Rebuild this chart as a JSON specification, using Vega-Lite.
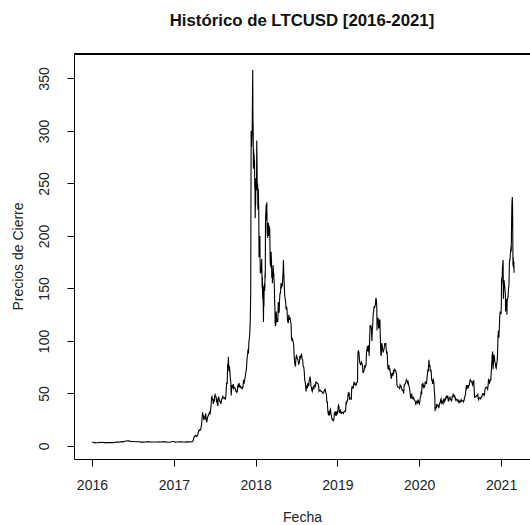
{
  "$schema": "https://vega.github.io/schema/vega-lite/v6.json",
  "width": 456,
  "height": 405,
  "autosize": {"type": "none"},
  "padding": {"left": 74, "top": 54, "right": 0, "bottom": 66},
  "background": "white",
  "config": {
    "view": {"stroke": null},
    "font": "Liberation Sans",
    "axis": {"grid": false, "domainColor": "black", "tickColor": "black", "tickSize": 7, "labelColor": "#222", "titleColor": "#222", "labelFont": "Liberation Sans", "titleFont": "Liberation Sans", "labelFontSize": 14, "titleFontSize": 14, "titleFontWeight": "normal", "domainWidth": 1, "tickWidth": 1}
  },
  "title": {"text": "Histórico de LTCUSD [2016-2021]", "font": "Liberation Sans", "fontSize": 16.8, "fontWeight": "bold", "color": "#111", "anchor": "middle", "offset": 11, "baseline": "alphabetic"},
  "data": {"values": [
{"d":"2016-01-01","v":3.5},{"d":"2016-01-08","v":3.6},{"d":"2016-01-15","v":3.0},{"d":"2016-01-22","v":3.1},{"d":"2016-01-29","v":3.1},{"d":"2016-02-05","v":3.4},{"d":"2016-02-12","v":3.3},{"d":"2016-02-19","v":3.5},{"d":"2016-02-26","v":3.0},{"d":"2016-03-04","v":3.3},{"d":"2016-03-11","v":3.2},{"d":"2016-03-18","v":3.3},{"d":"2016-03-25","v":3.2},{"d":"2016-04-01","v":3.2},{"d":"2016-04-08","v":3.2},{"d":"2016-04-15","v":3.6},{"d":"2016-04-22","v":3.8},{"d":"2016-04-29","v":3.7},{"d":"2016-05-06","v":3.8},{"d":"2016-05-13","v":4.1},{"d":"2016-05-20","v":3.9},{"d":"2016-05-27","v":4.5},{"d":"2016-06-03","v":4.8},{"d":"2016-06-10","v":5.0},{"d":"2016-06-17","v":4.6},{"d":"2016-06-24","v":4.2},{"d":"2016-07-01","v":4.2},{"d":"2016-07-08","v":4.2},{"d":"2016-07-15","v":4.1},{"d":"2016-07-22","v":4.0},{"d":"2016-07-29","v":4.0},{"d":"2016-08-05","v":3.7},{"d":"2016-08-12","v":3.8},{"d":"2016-08-19","v":3.7},{"d":"2016-08-26","v":3.8},{"d":"2016-09-02","v":3.9},{"d":"2016-09-09","v":3.9},{"d":"2016-09-16","v":3.9},{"d":"2016-09-23","v":3.8},{"d":"2016-09-30","v":3.8},{"d":"2016-10-07","v":3.8},{"d":"2016-10-14","v":3.8},{"d":"2016-10-21","v":3.8},{"d":"2016-10-28","v":3.9},{"d":"2016-11-04","v":3.8},{"d":"2016-11-11","v":3.9},{"d":"2016-11-18","v":3.9},{"d":"2016-11-25","v":4.0},{"d":"2016-12-02","v":3.7},{"d":"2016-12-09","v":3.6},{"d":"2016-12-16","v":3.6},{"d":"2016-12-23","v":4.2},{"d":"2016-12-30","v":4.3},
{"d":"2017-01-06","v":3.7},{"d":"2017-01-13","v":3.8},{"d":"2017-01-20","v":3.8},{"d":"2017-01-27","v":4.0},{"d":"2017-02-03","v":3.9},{"d":"2017-02-10","v":3.8},{"d":"2017-02-17","v":3.8},{"d":"2017-02-24","v":3.7},{"d":"2017-03-03","v":4.1},{"d":"2017-03-10","v":3.8},{"d":"2017-03-17","v":3.9},{"d":"2017-03-24","v":4.0},{"d":"2017-03-28","v":5.0},{"d":"2017-03-30","v":7.0},{"d":"2017-04-01","v":8.5},{"d":"2017-04-03","v":9.0},{"d":"2017-04-05","v":9.2},{"d":"2017-04-07","v":10.2},{"d":"2017-04-09","v":10.0},{"d":"2017-04-11","v":9.6},{"d":"2017-04-13","v":9.0},{"d":"2017-04-15","v":9.8},{"d":"2017-04-17","v":10.0},{"d":"2017-04-19","v":12.5},{"d":"2017-04-21","v":13.5},{"d":"2017-04-23","v":15.0},{"d":"2017-04-25","v":15.2},{"d":"2017-04-27","v":14.8},{"d":"2017-04-29","v":15.4},{"d":"2017-05-01","v":16.0},{"d":"2017-05-03","v":18.5},{"d":"2017-05-05","v":21.0},{"d":"2017-05-07","v":27.0},{"d":"2017-05-09","v":32.0},{"d":"2017-05-11","v":30.0},{"d":"2017-05-13","v":28.0},{"d":"2017-05-15","v":24.5},{"d":"2017-05-17","v":27.0},{"d":"2017-05-19","v":28.0},{"d":"2017-05-21","v":27.0},{"d":"2017-05-23","v":31.0},{"d":"2017-05-25","v":26.0},{"d":"2017-05-27","v":22.5},{"d":"2017-05-29","v":24.0},{"d":"2017-05-31","v":27.0},{"d":"2017-06-02","v":28.0},{"d":"2017-06-04","v":29.5},{"d":"2017-06-06","v":30.5},{"d":"2017-06-08","v":31.0},{"d":"2017-06-10","v":33.0},{"d":"2017-06-12","v":30.0},{"d":"2017-06-14","v":35.0},{"d":"2017-06-16","v":38.0},{"d":"2017-06-18","v":46.0},{"d":"2017-06-20","v":47.0},{"d":"2017-06-22","v":44.0},{"d":"2017-06-24","v":44.0},{"d":"2017-06-26","v":40.0},{"d":"2017-06-28","v":43.0},{"d":"2017-06-30","v":42.0},{"d":"2017-07-02","v":48.0},{"d":"2017-07-04","v":49.0},{"d":"2017-07-06","v":47.0},{"d":"2017-07-08","v":47.0},{"d":"2017-07-10","v":43.0},{"d":"2017-07-12","v":44.0},{"d":"2017-07-14","v":40.0},{"d":"2017-07-16","v":38.0},{"d":"2017-07-18","v":45.0},{"d":"2017-07-20","v":47.0},{"d":"2017-07-22","v":45.0},{"d":"2017-07-24","v":43.0},{"d":"2017-07-26","v":42.0},{"d":"2017-07-28","v":42.0},{"d":"2017-07-30","v":40.0},{"d":"2017-08-01","v":43.0},{"d":"2017-08-03","v":45.0},{"d":"2017-08-05","v":45.0},{"d":"2017-08-07","v":48.0},{"d":"2017-08-09","v":46.0},{"d":"2017-08-11","v":46.0},{"d":"2017-08-13","v":45.0},{"d":"2017-08-15","v":45.0},{"d":"2017-08-17","v":46.0},{"d":"2017-08-19","v":45.0},{"d":"2017-08-21","v":47.0},{"d":"2017-08-23","v":55.0},{"d":"2017-08-25","v":61.0},{"d":"2017-08-27","v":59.0},{"d":"2017-08-29","v":78.0},{"d":"2017-08-31","v":74.0},{"d":"2017-09-01","v":85.0},{"d":"2017-09-02","v":80.0},{"d":"2017-09-04","v":71.0},{"d":"2017-09-06","v":76.0},{"d":"2017-09-08","v":71.0},{"d":"2017-09-10","v":65.0},{"d":"2017-09-12","v":61.0},{"d":"2017-09-14","v":48.0},{"d":"2017-09-15","v":52.0},{"d":"2017-09-17","v":58.0},{"d":"2017-09-19","v":55.0},{"d":"2017-09-21","v":57.0},{"d":"2017-09-23","v":59.0},{"d":"2017-09-25","v":55.0},{"d":"2017-09-27","v":56.0},{"d":"2017-09-29","v":56.0},{"d":"2017-10-01","v":55.0},{"d":"2017-10-03","v":54.0},{"d":"2017-10-05","v":52.0},{"d":"2017-10-07","v":52.0},{"d":"2017-10-09","v":51.0},{"d":"2017-10-11","v":52.0},{"d":"2017-10-13","v":57.0},{"d":"2017-10-15","v":58.0},{"d":"2017-10-17","v":57.0},{"d":"2017-10-19","v":60.0},{"d":"2017-10-21","v":57.0},{"d":"2017-10-23","v":56.0},{"d":"2017-10-25","v":57.0},{"d":"2017-10-27","v":56.0},{"d":"2017-10-29","v":55.0},{"d":"2017-10-31","v":55.0},{"d":"2017-11-02","v":56.0},{"d":"2017-11-04","v":55.0},{"d":"2017-11-06","v":57.0},{"d":"2017-11-08","v":63.0},{"d":"2017-11-10","v":59.0},{"d":"2017-11-12","v":62.0},{"d":"2017-11-14","v":64.0},{"d":"2017-11-16","v":67.0},{"d":"2017-11-18","v":70.0},{"d":"2017-11-20","v":72.0},{"d":"2017-11-22","v":77.0},{"d":"2017-11-24","v":84.0},{"d":"2017-11-26","v":87.0},{"d":"2017-11-28","v":92.0},{"d":"2017-11-30","v":88.0},{"d":"2017-12-02","v":100},{"d":"2017-12-04","v":102},{"d":"2017-12-06","v":108},{"d":"2017-12-08","v":120},{"d":"2017-12-10","v":145},{"d":"2017-12-11","v":220},{"d":"2017-12-12","v":300},{"d":"2017-12-13","v":290},{"d":"2017-12-14","v":285},{"d":"2017-12-15","v":292},{"d":"2017-12-16","v":297},{"d":"2017-12-17","v":308},{"d":"2017-12-18","v":338},{"d":"2017-12-19","v":358},{"d":"2017-12-20","v":311},{"d":"2017-12-21","v":303},{"d":"2017-12-22","v":264},{"d":"2017-12-23","v":283},{"d":"2017-12-24","v":272},{"d":"2017-12-25","v":278},{"d":"2017-12-26","v":270},{"d":"2017-12-27","v":272},{"d":"2017-12-28","v":247},{"d":"2017-12-29","v":245},{"d":"2017-12-30","v":217},{"d":"2017-12-31","v":232},
{"d":"2018-01-01","v":229},{"d":"2018-01-02","v":255},{"d":"2018-01-03","v":245},{"d":"2018-01-04","v":243},{"d":"2018-01-05","v":250},{"d":"2018-01-06","v":291},{"d":"2018-01-07","v":275},{"d":"2018-01-08","v":248},{"d":"2018-01-09","v":245},{"d":"2018-01-10","v":250},{"d":"2018-01-11","v":225},{"d":"2018-01-12","v":240},{"d":"2018-01-13","v":245},{"d":"2018-01-14","v":232},{"d":"2018-01-15","v":226},{"d":"2018-01-16","v":180},{"d":"2018-01-17","v":185},{"d":"2018-01-18","v":183},{"d":"2018-01-19","v":190},{"d":"2018-01-20","v":200},{"d":"2018-01-21","v":175},{"d":"2018-01-22","v":165},{"d":"2018-01-23","v":165},{"d":"2018-01-24","v":170},{"d":"2018-01-25","v":170},{"d":"2018-01-26","v":165},{"d":"2018-01-27","v":172},{"d":"2018-01-28","v":178},{"d":"2018-01-29","v":167},{"d":"2018-01-30","v":150},{"d":"2018-01-31","v":161},{"d":"2018-02-01","v":145},{"d":"2018-02-02","v":140},{"d":"2018-02-03","v":152},{"d":"2018-02-04","v":132},{"d":"2018-02-05","v":118},{"d":"2018-02-06","v":140},{"d":"2018-02-07","v":133},{"d":"2018-02-08","v":150},{"d":"2018-02-09","v":155},{"d":"2018-02-10","v":150},{"d":"2018-02-11","v":148},{"d":"2018-02-12","v":165},{"d":"2018-02-13","v":160},{"d":"2018-02-14","v":213},{"d":"2018-02-15","v":220},{"d":"2018-02-16","v":225},{"d":"2018-02-17","v":230},{"d":"2018-02-18","v":215},{"d":"2018-02-19","v":225},{"d":"2018-02-20","v":232},{"d":"2018-02-21","v":210},{"d":"2018-02-22","v":200},{"d":"2018-02-23","v":205},{"d":"2018-02-24","v":198},{"d":"2018-02-25","v":208},{"d":"2018-02-26","v":212},{"d":"2018-02-27","v":212},{"d":"2018-02-28","v":200},{"d":"2018-03-01","v":205},{"d":"2018-03-02","v":210},{"d":"2018-03-03","v":208},{"d":"2018-03-04","v":205},{"d":"2018-03-05","v":207},{"d":"2018-03-06","v":190},{"d":"2018-03-07","v":175},{"d":"2018-03-08","v":172},{"d":"2018-03-09","v":180},{"d":"2018-03-10","v":170},{"d":"2018-03-11","v":185},{"d":"2018-03-12","v":180},{"d":"2018-03-13","v":175},{"d":"2018-03-14","v":160},{"d":"2018-03-15","v":162},{"d":"2018-03-16","v":165},{"d":"2018-03-17","v":155},{"d":"2018-03-18","v":160},{"d":"2018-03-19","v":168},{"d":"2018-03-20","v":172},{"d":"2018-03-21","v":167},{"d":"2018-03-22","v":162},{"d":"2018-03-23","v":165},{"d":"2018-03-24","v":158},{"d":"2018-03-25","v":156},{"d":"2018-03-26","v":148},{"d":"2018-03-27","v":135},{"d":"2018-03-28","v":133},{"d":"2018-03-29","v":117},{"d":"2018-03-30","v":114},{"d":"2018-03-31","v":117},{"d":"2018-04-01","v":115},{"d":"2018-04-03","v":128},{"d":"2018-04-05","v":118},{"d":"2018-04-07","v":120},{"d":"2018-04-10","v":118},{"d":"2018-04-12","v":137},{"d":"2018-04-14","v":128},{"d":"2018-04-16","v":127},{"d":"2018-04-18","v":140},{"d":"2018-04-20","v":146},{"d":"2018-04-22","v":145},{"d":"2018-04-24","v":155},{"d":"2018-04-26","v":150},{"d":"2018-04-28","v":155},{"d":"2018-04-30","v":152},{"d":"2018-05-02","v":160},{"d":"2018-05-04","v":168},{"d":"2018-05-05","v":177},{"d":"2018-05-07","v":163},{"d":"2018-05-09","v":152},{"d":"2018-05-11","v":143},{"d":"2018-05-13","v":140},{"d":"2018-05-15","v":137},{"d":"2018-05-17","v":130},{"d":"2018-05-19","v":132},{"d":"2018-05-21","v":131},{"d":"2018-05-23","v":120},{"d":"2018-05-25","v":118},{"d":"2018-05-27","v":117},{"d":"2018-05-29","v":125},{"d":"2018-05-31","v":120},{"d":"2018-06-02","v":122},{"d":"2018-06-04","v":122},{"d":"2018-06-06","v":118},{"d":"2018-06-08","v":117},{"d":"2018-06-10","v":103},{"d":"2018-06-12","v":100},{"d":"2018-06-14","v":103},{"d":"2018-06-16","v":100},{"d":"2018-06-18","v":99},{"d":"2018-06-20","v":96},{"d":"2018-06-22","v":86},{"d":"2018-06-24","v":80},{"d":"2018-06-26","v":77},{"d":"2018-06-28","v":76},{"d":"2018-06-30","v":84},{"d":"2018-07-02","v":86},{"d":"2018-07-04","v":85},{"d":"2018-07-06","v":83},{"d":"2018-07-09","v":82},{"d":"2018-07-12","v":78},{"d":"2018-07-15","v":79},{"d":"2018-07-18","v":86},{"d":"2018-07-20","v":84},{"d":"2018-07-23","v":86},{"d":"2018-07-25","v":88},{"d":"2018-07-27","v":83},{"d":"2018-07-30","v":82},{"d":"2018-08-01","v":76},{"d":"2018-08-04","v":75},{"d":"2018-08-06","v":71},{"d":"2018-08-08","v":63},{"d":"2018-08-10","v":61},{"d":"2018-08-12","v":58},{"d":"2018-08-14","v":52},{"d":"2018-08-16","v":56},{"d":"2018-08-18","v":57},{"d":"2018-08-20","v":55},{"d":"2018-08-22","v":60},{"d":"2018-08-24","v":58},{"d":"2018-08-26","v":57},{"d":"2018-08-28","v":62},{"d":"2018-08-30","v":63},{"d":"2018-09-01","v":66},{"d":"2018-09-03","v":63},{"d":"2018-09-05","v":57},{"d":"2018-09-07","v":56},{"d":"2018-09-09","v":53},{"d":"2018-09-11","v":52},{"d":"2018-09-13","v":55},{"d":"2018-09-15","v":56},{"d":"2018-09-17","v":54},{"d":"2018-09-19","v":56},{"d":"2018-09-21","v":58},{"d":"2018-09-23","v":58},{"d":"2018-09-25","v":57},{"d":"2018-09-27","v":61},{"d":"2018-09-29","v":61},{"d":"2018-10-01","v":60},{"d":"2018-10-04","v":60},{"d":"2018-10-07","v":59},{"d":"2018-10-10","v":56},{"d":"2018-10-11","v":52},{"d":"2018-10-14","v":53},{"d":"2018-10-17","v":53},{"d":"2018-10-20","v":52},{"d":"2018-10-23","v":52},{"d":"2018-10-26","v":51},{"d":"2018-10-29","v":50},{"d":"2018-11-01","v":51},{"d":"2018-11-04","v":53},{"d":"2018-11-07","v":54},{"d":"2018-11-10","v":51},{"d":"2018-11-13","v":49},{"d":"2018-11-15","v":42},{"d":"2018-11-17","v":42},{"d":"2018-11-19","v":35},{"d":"2018-11-20","v":32},{"d":"2018-11-22","v":30},{"d":"2018-11-24","v":31},{"d":"2018-11-25","v":33},{"d":"2018-11-27","v":29},{"d":"2018-11-29","v":34},{"d":"2018-12-01","v":35},{"d":"2018-12-03","v":31},{"d":"2018-12-05","v":29},{"d":"2018-12-07","v":26},{"d":"2018-12-09","v":26},{"d":"2018-12-11","v":25},{"d":"2018-12-13","v":24},{"d":"2018-12-15","v":24},{"d":"2018-12-17","v":27},{"d":"2018-12-19","v":32},{"d":"2018-12-21","v":31},{"d":"2018-12-23","v":33},{"d":"2018-12-25","v":29},{"d":"2018-12-27","v":29},{"d":"2018-12-29","v":33},{"d":"2018-12-31","v":30},
{"d":"2019-01-02","v":32},{"d":"2019-01-04","v":36},{"d":"2019-01-06","v":39},{"d":"2019-01-08","v":38},{"d":"2019-01-10","v":32},{"d":"2019-01-12","v":32},{"d":"2019-01-14","v":34},{"d":"2019-01-16","v":33},{"d":"2019-01-18","v":31},{"d":"2019-01-20","v":31},{"d":"2019-01-22","v":32},{"d":"2019-01-24","v":32},{"d":"2019-01-26","v":32},{"d":"2019-01-28","v":31},{"d":"2019-01-30","v":32},{"d":"2019-02-01","v":33},{"d":"2019-02-03","v":33},{"d":"2019-02-05","v":33},{"d":"2019-02-07","v":34},{"d":"2019-02-09","v":42},{"d":"2019-02-11","v":41},{"d":"2019-02-13","v":43},{"d":"2019-02-15","v":43},{"d":"2019-02-17","v":47},{"d":"2019-02-19","v":51},{"d":"2019-02-21","v":48},{"d":"2019-02-23","v":51},{"d":"2019-02-24","v":44},{"d":"2019-02-26","v":46},{"d":"2019-02-28","v":46},{"d":"2019-03-02","v":46},{"d":"2019-03-04","v":44},{"d":"2019-03-06","v":55},{"d":"2019-03-08","v":57},{"d":"2019-03-10","v":55},{"d":"2019-03-12","v":55},{"d":"2019-03-14","v":57},{"d":"2019-03-16","v":60},{"d":"2019-03-18","v":59},{"d":"2019-03-20","v":60},{"d":"2019-03-22","v":59},{"d":"2019-03-24","v":58},{"d":"2019-03-26","v":58},{"d":"2019-03-28","v":60},{"d":"2019-03-30","v":61},{"d":"2019-04-01","v":61},{"d":"2019-04-02","v":82},{"d":"2019-04-03","v":89},{"d":"2019-04-05","v":91},{"d":"2019-04-07","v":89},{"d":"2019-04-09","v":84},{"d":"2019-04-11","v":79},{"d":"2019-04-13","v":79},{"d":"2019-04-15","v":77},{"d":"2019-04-17","v":79},{"d":"2019-04-19","v":80},{"d":"2019-04-21","v":78},{"d":"2019-04-23","v":77},{"d":"2019-04-25","v":70},{"d":"2019-04-27","v":70},{"d":"2019-04-29","v":71},{"d":"2019-05-01","v":73},{"d":"2019-05-03","v":77},{"d":"2019-05-05","v":75},{"d":"2019-05-07","v":76},{"d":"2019-05-09","v":77},{"d":"2019-05-11","v":90},{"d":"2019-05-13","v":92},{"d":"2019-05-15","v":95},{"d":"2019-05-17","v":90},{"d":"2019-05-19","v":96},{"d":"2019-05-21","v":93},{"d":"2019-05-23","v":86},{"d":"2019-05-25","v":102},{"d":"2019-05-27","v":115},{"d":"2019-05-29","v":113},{"d":"2019-05-31","v":114},{"d":"2019-06-02","v":112},{"d":"2019-06-04","v":100},{"d":"2019-06-06","v":110},{"d":"2019-06-08","v":116},{"d":"2019-06-10","v":126},{"d":"2019-06-12","v":128},{"d":"2019-06-14","v":133},{"d":"2019-06-16","v":132},{"d":"2019-06-18","v":133},{"d":"2019-06-20","v":135},{"d":"2019-06-22","v":141},{"d":"2019-06-24","v":139},{"d":"2019-06-26","v":132},{"d":"2019-06-27","v":110},{"d":"2019-06-28","v":122},{"d":"2019-06-30","v":120},{"d":"2019-07-02","v":122},{"d":"2019-07-04","v":112},{"d":"2019-07-06","v":113},{"d":"2019-07-08","v":120},{"d":"2019-07-10","v":120},{"d":"2019-07-11","v":108},{"d":"2019-07-14","v":87},{"d":"2019-07-16","v":86},{"d":"2019-07-18","v":98},{"d":"2019-07-20","v":96},{"d":"2019-07-22","v":92},{"d":"2019-07-24","v":89},{"d":"2019-07-26","v":91},{"d":"2019-07-28","v":92},{"d":"2019-07-30","v":95},{"d":"2019-08-01","v":98},{"d":"2019-08-03","v":96},{"d":"2019-08-05","v":98},{"d":"2019-08-07","v":92},{"d":"2019-08-09","v":88},{"d":"2019-08-11","v":90},{"d":"2019-08-13","v":80},{"d":"2019-08-15","v":73},{"d":"2019-08-17","v":74},{"d":"2019-08-19","v":77},{"d":"2019-08-21","v":72},{"d":"2019-08-23","v":74},{"d":"2019-08-25","v":70},{"d":"2019-08-27","v":69},{"d":"2019-08-29","v":64},{"d":"2019-08-31","v":65},{"d":"2019-09-02","v":69},{"d":"2019-09-04","v":69},{"d":"2019-09-06","v":67},{"d":"2019-09-08","v":71},{"d":"2019-09-10","v":70},{"d":"2019-09-12","v":72},{"d":"2019-09-14","v":73},{"d":"2019-09-16","v":72},{"d":"2019-09-18","v":72},{"d":"2019-09-20","v":70},{"d":"2019-09-22","v":68},{"d":"2019-09-24","v":58},{"d":"2019-09-26","v":57},{"d":"2019-09-28","v":56},{"d":"2019-09-30","v":56},{"d":"2019-10-02","v":56},{"d":"2019-10-04","v":56},{"d":"2019-10-06","v":55},{"d":"2019-10-08","v":58},{"d":"2019-10-10","v":57},{"d":"2019-10-12","v":57},{"d":"2019-10-14","v":55},{"d":"2019-10-16","v":54},{"d":"2019-10-18","v":53},{"d":"2019-10-20","v":53},{"d":"2019-10-22","v":52},{"d":"2019-10-24","v":50},{"d":"2019-10-26","v":58},{"d":"2019-10-28","v":58},{"d":"2019-10-30","v":59},{"d":"2019-11-01","v":60},{"d":"2019-11-03","v":61},{"d":"2019-11-05","v":63},{"d":"2019-11-07","v":62},{"d":"2019-11-09","v":62},{"d":"2019-11-11","v":60},{"d":"2019-11-13","v":61},{"d":"2019-11-15","v":58},{"d":"2019-11-17","v":57},{"d":"2019-11-19","v":55},{"d":"2019-11-21","v":52},{"d":"2019-11-23","v":48},{"d":"2019-11-25","v":45},{"d":"2019-11-27","v":48},{"d":"2019-11-29","v":49},{"d":"2019-12-01","v":46},{"d":"2019-12-03","v":45},{"d":"2019-12-05","v":45},{"d":"2019-12-07","v":46},{"d":"2019-12-09","v":44},{"d":"2019-12-11","v":44},{"d":"2019-12-13","v":43},{"d":"2019-12-15","v":42},{"d":"2019-12-17","v":39},{"d":"2019-12-19","v":42},{"d":"2019-12-21","v":42},{"d":"2019-12-23","v":43},{"d":"2019-12-25","v":41},{"d":"2019-12-27","v":42},{"d":"2019-12-29","v":43},{"d":"2019-12-31","v":41},
{"d":"2020-01-02","v":40},{"d":"2020-01-04","v":42},{"d":"2020-01-06","v":46},{"d":"2020-01-08","v":47},{"d":"2020-01-10","v":52},{"d":"2020-01-12","v":49},{"d":"2020-01-14","v":59},{"d":"2020-01-16","v":58},{"d":"2020-01-18","v":60},{"d":"2020-01-20","v":56},{"d":"2020-01-22","v":57},{"d":"2020-01-24","v":56},{"d":"2020-01-26","v":57},{"d":"2020-01-28","v":61},{"d":"2020-01-30","v":61},{"d":"2020-02-01","v":61},{"d":"2020-02-03","v":59},{"d":"2020-02-05","v":65},{"d":"2020-02-07","v":68},{"d":"2020-02-09","v":73},{"d":"2020-02-11","v":71},{"d":"2020-02-13","v":79},{"d":"2020-02-14","v":82},{"d":"2020-02-16","v":75},{"d":"2020-02-18","v":77},{"d":"2020-02-20","v":71},{"d":"2020-02-22","v":73},{"d":"2020-02-24","v":70},{"d":"2020-02-26","v":63},{"d":"2020-02-28","v":63},{"d":"2020-03-01","v":59},{"d":"2020-03-03","v":62},{"d":"2020-03-05","v":63},{"d":"2020-03-07","v":60},{"d":"2020-03-09","v":52},{"d":"2020-03-11","v":47},{"d":"2020-03-12","v":33},{"d":"2020-03-13","v":37},{"d":"2020-03-15","v":36},{"d":"2020-03-17","v":36},{"d":"2020-03-19","v":40},{"d":"2020-03-21","v":38},{"d":"2020-03-23","v":39},{"d":"2020-03-25","v":39},{"d":"2020-03-27","v":38},{"d":"2020-03-29","v":36},{"d":"2020-03-31","v":39},{"d":"2020-04-02","v":41},{"d":"2020-04-04","v":41},{"d":"2020-04-06","v":44},{"d":"2020-04-08","v":45},{"d":"2020-04-10","v":41},{"d":"2020-04-12","v":42},{"d":"2020-04-14","v":41},{"d":"2020-04-16","v":43},{"d":"2020-04-18","v":44},{"d":"2020-04-20","v":41},{"d":"2020-04-22","v":42},{"d":"2020-04-24","v":44},{"d":"2020-04-26","v":45},{"d":"2020-04-28","v":44},{"d":"2020-04-30","v":46},{"d":"2020-05-02","v":48},{"d":"2020-05-04","v":46},{"d":"2020-05-06","v":46},{"d":"2020-05-08","v":48},{"d":"2020-05-10","v":43},{"d":"2020-05-12","v":43},{"d":"2020-05-14","v":45},{"d":"2020-05-16","v":45},{"d":"2020-05-18","v":47},{"d":"2020-05-20","v":45},{"d":"2020-05-22","v":44},{"d":"2020-05-24","v":43},{"d":"2020-05-26","v":44},{"d":"2020-05-28","v":47},{"d":"2020-05-30","v":47},{"d":"2020-06-01","v":49},{"d":"2020-06-03","v":48},{"d":"2020-06-05","v":47},{"d":"2020-06-07","v":48},{"d":"2020-06-09","v":47},{"d":"2020-06-11","v":44},{"d":"2020-06-13","v":45},{"d":"2020-06-15","v":44},{"d":"2020-06-17","v":44},{"d":"2020-06-19","v":43},{"d":"2020-06-21","v":44},{"d":"2020-06-23","v":44},{"d":"2020-06-25","v":42},{"d":"2020-06-27","v":41},{"d":"2020-06-29","v":42},{"d":"2020-07-01","v":43},{"d":"2020-07-03","v":42},{"d":"2020-07-05","v":42},{"d":"2020-07-07","v":44},{"d":"2020-07-09","v":43},{"d":"2020-07-11","v":43},{"d":"2020-07-13","v":43},{"d":"2020-07-15","v":43},{"d":"2020-07-17","v":42},{"d":"2020-07-19","v":43},{"d":"2020-07-21","v":45},{"d":"2020-07-23","v":47},{"d":"2020-07-25","v":48},{"d":"2020-07-27","v":52},{"d":"2020-07-29","v":56},{"d":"2020-07-31","v":58},{"d":"2020-08-02","v":55},{"d":"2020-08-04","v":56},{"d":"2020-08-06","v":58},{"d":"2020-08-08","v":56},{"d":"2020-08-10","v":57},{"d":"2020-08-12","v":58},{"d":"2020-08-14","v":61},{"d":"2020-08-16","v":63},{"d":"2020-08-18","v":62},{"d":"2020-08-20","v":62},{"d":"2020-08-22","v":61},{"d":"2020-08-24","v":61},{"d":"2020-08-26","v":58},{"d":"2020-08-28","v":59},{"d":"2020-08-30","v":62},{"d":"2020-09-01","v":62},{"d":"2020-09-03","v":52},{"d":"2020-09-05","v":46},{"d":"2020-09-07","v":47},{"d":"2020-09-09","v":47},{"d":"2020-09-11","v":47},{"d":"2020-09-13","v":48},{"d":"2020-09-15","v":48},{"d":"2020-09-17","v":48},{"d":"2020-09-19","v":49},{"d":"2020-09-21","v":45},{"d":"2020-09-23","v":44},{"d":"2020-09-25","v":46},{"d":"2020-09-27","v":46},{"d":"2020-09-29","v":46},{"d":"2020-10-01","v":45},{"d":"2020-10-03","v":46},{"d":"2020-10-05","v":47},{"d":"2020-10-07","v":47},{"d":"2020-10-09","v":49},{"d":"2020-10-11","v":50},{"d":"2020-10-13","v":50},{"d":"2020-10-15","v":49},{"d":"2020-10-17","v":48},{"d":"2020-10-19","v":49},{"d":"2020-10-21","v":54},{"d":"2020-10-23","v":55},{"d":"2020-10-25","v":56},{"d":"2020-10-27","v":56},{"d":"2020-10-29","v":56},{"d":"2020-10-31","v":55},{"d":"2020-11-02","v":54},{"d":"2020-11-04","v":58},{"d":"2020-11-06","v":64},{"d":"2020-11-08","v":62},{"d":"2020-11-10","v":60},{"d":"2020-11-12","v":61},{"d":"2020-11-14","v":63},{"d":"2020-11-16","v":63},{"d":"2020-11-18","v":70},{"d":"2020-11-20","v":78},{"d":"2020-11-22","v":86},{"d":"2020-11-24","v":90},{"d":"2020-11-26","v":73},{"d":"2020-11-28","v":80},{"d":"2020-11-30","v":87},{"d":"2020-12-02","v":85},{"d":"2020-12-04","v":80},{"d":"2020-12-06","v":79},{"d":"2020-12-08","v":75},{"d":"2020-12-10","v":74},{"d":"2020-12-12","v":78},{"d":"2020-12-14","v":80},{"d":"2020-12-16","v":87},{"d":"2020-12-18","v":104},{"d":"2020-12-20","v":110},{"d":"2020-12-22","v":103},{"d":"2020-12-24","v":112},{"d":"2020-12-26","v":124},{"d":"2020-12-28","v":128},{"d":"2020-12-30","v":126},
{"d":"2021-01-01","v":126},{"d":"2021-01-02","v":135},{"d":"2021-01-03","v":160},{"d":"2021-01-04","v":155},{"d":"2021-01-05","v":158},{"d":"2021-01-06","v":163},{"d":"2021-01-07","v":170},{"d":"2021-01-09","v":175},{"d":"2021-01-10","v":177},{"d":"2021-01-11","v":140},{"d":"2021-01-12","v":145},{"d":"2021-01-13","v":152},{"d":"2021-01-14","v":158},{"d":"2021-01-16","v":154},{"d":"2021-01-18","v":150},{"d":"2021-01-20","v":145},{"d":"2021-01-21","v":128},{"d":"2021-01-22","v":132},{"d":"2021-01-24","v":140},{"d":"2021-01-26","v":138},{"d":"2021-01-27","v":125},{"d":"2021-01-28","v":138},{"d":"2021-01-30","v":140},{"d":"2021-02-01","v":142},{"d":"2021-02-03","v":150},{"d":"2021-02-05","v":153},{"d":"2021-02-07","v":174},{"d":"2021-02-08","v":177},{"d":"2021-02-09","v":177},{"d":"2021-02-10","v":178},{"d":"2021-02-12","v":185},{"d":"2021-02-14","v":190},{"d":"2021-02-15","v":185},{"d":"2021-02-16","v":197},{"d":"2021-02-17","v":215},{"d":"2021-02-18","v":228},{"d":"2021-02-19","v":233},{"d":"2021-02-20","v":237},{"d":"2021-02-21","v":230},{"d":"2021-02-22","v":205},{"d":"2021-02-23","v":172},{"d":"2021-02-24","v":180},{"d":"2021-02-25","v":170},{"d":"2021-02-26","v":176},{"d":"2021-02-27","v":175},{"d":"2021-02-28","v":165}
  ]},
  "layer": [
    {
      "mark": {"type": "line", "color": "black", "strokeWidth": 1.1, "interpolate": "linear"},
      "encoding": {
        "x": {"field": "d", "type": "temporal",
          "scale": {"type": "utc", "nice": false, "domain": [{"year": 2015, "month": 10, "date": 13, "utc": true}, {"year": 2021, "month": 5, "date": 10, "utc": true}]},
          "axis": {"title": "Fecha", "format": "%Y", "formatType": "utc",
            "values": [{"year": 2016, "month": 1, "date": 1, "utc": true}, {"year": 2017, "month": 1, "date": 1, "utc": true}, {"year": 2018, "month": 1, "date": 1, "utc": true}, {"year": 2019, "month": 1, "date": 1, "utc": true}, {"year": 2020, "month": 1, "date": 1, "utc": true}, {"year": 2021, "month": 1, "date": 1, "utc": true}],
            "labelBaseline": "alphabetic", "labelPadding": 23, "labelFlush": false, "labelOverlap": false,
            "titleY": 62, "titleBaseline": "alphabetic"}},
        "y": {"field": "v", "type": "quantitative",
          "scale": {"domain": [-12.4, 373.3], "nice": false, "zero": false},
          "axis": {"title": "Precios de Cierre", "values": [0, 50, 100, 150, 200, 250, 300, 350],
            "labelAngle": -90, "labelAlign": "center", "labelBaseline": "alphabetic", "labelPadding": 19,
            "titleAngle": -90, "titleX": -52, "titleY": 202, "titleAlign": "center", "titleBaseline": "alphabetic"}}
      }
    },
    {
      "mark": {"type": "rule", "color": "black", "strokeWidth": 1},
      "encoding": {"y": {"datum": 373.3}}
    }
  ]
}
